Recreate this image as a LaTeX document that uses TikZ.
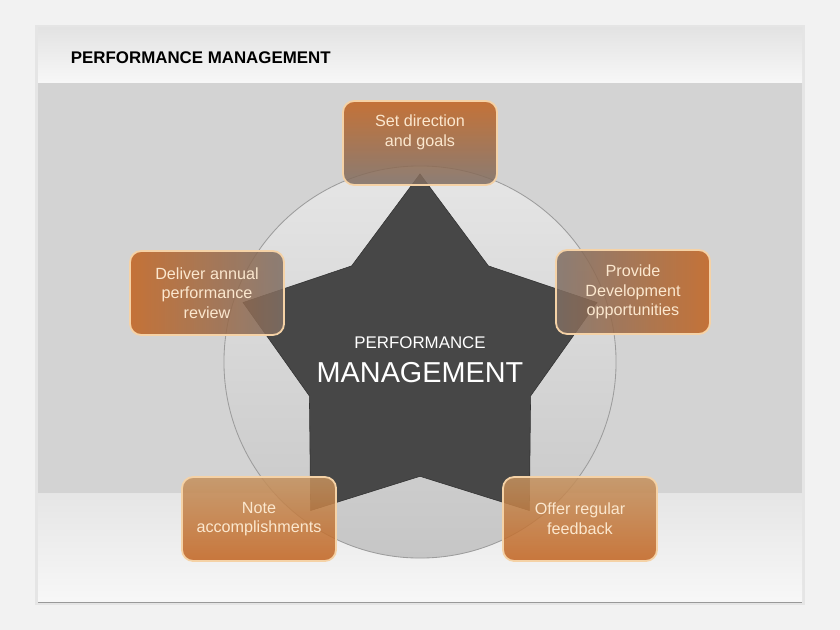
\documentclass[tikz,border=0pt]{standalone}
\usepackage{fontspec}
\setmainfont{Liberation Sans}
\usetikzlibrary{shapes.geometric}

\definecolor{pagebg}{HTML}{F2F2F2}
\definecolor{bodygray}{HTML}{D3D3D3}
\definecolor{ringtop}{HTML}{E6E6E6}
\definecolor{ringbot}{HTML}{C6C6C6}
\definecolor{ringline}{HTML}{9C9C9C}
\definecolor{stargray}{HTML}{474747}
\definecolor{boxorange}{HTML}{C2631F}
\definecolor{boxgray}{HTML}{7E6E64}
\definecolor{boxtan}{HTML}{C4925F}
\definecolor{cream}{HTML}{FBE7CE}
\definecolor{glow}{HTML}{F5D2A6}

\tikzset{
  goal/.style={rounded corners=8pt, minimum width=3.85cm, minimum height=2.1cm,
    draw=glow, line width=1.3pt, fill opacity=0.86, text opacity=1,
    text=cream, align=center, font=\fontsize{11.5}{14}\selectfont},
  goaltext/.style={text=cream, align=center, font=\fontsize{11.5}{14}\selectfont}
}

\begin{document}
\begin{tikzpicture}[x=0.025cm, y=-0.025cm]
  \useasboundingbox (0,0) rectangle (840,630);
  \fill[pagebg] (0,0) rectangle (840,630);

  % slide frame
  \fill[black!10] (35,25) rectangle (805,605);
  \shade[top color=black!11, bottom color=black!3] (38,28) rectangle (802,83);
  \fill[bodygray] (38,83) rectangle (802,493);
  \shade[top color=black!10, bottom color=black!3] (38,493) rectangle (802,602);
  \draw[black!40] (38,602) -- (802,602);
  \node[anchor=west, font=\bfseries\fontsize{12}{14}\selectfont] (title) at (66,58) {PERFORMANCE MANAGEMENT};

  % ring and star
  \node[circle, minimum size=9.8cm, inner sep=0, top color=ringtop, bottom color=ringbot,
        draw=ringline, line width=0.6pt] (ring) at (420,362) {};
  \node[star, star points=5, star point ratio=1.6, minimum size=9.3cm, inner sep=0,
        fill=stargray, draw=stargray!70!black] (hub) at (420,360) {};
  \node[text=white, font=\fontsize{12}{14}\selectfont] (hubtop) at (420,343) {PERFORMANCE};
  \node[text=white, font=\fontsize{20.5}{24}\selectfont] (hubbottom) at (420,373) {MANAGEMENT};

  % goals round the star
  \node[goal, top color=boxorange, bottom color=boxgray] (direction) at (420,143) {};
  \node[goaltext] (directiontext) at (420,132) {Set direction\\and goals};
  \node[goal, left color=boxorange, right color=boxgray] (review) at (207,293) {Deliver annual\\performance\\review};
  \node[goal, left color=boxgray, right color=boxorange] (development) at (633,292) {Provide\\Development\\opportunities};
  \node[goal, top color=boxtan, bottom color=boxorange] (notes) at (259,519) {Note\\accomplishments};
  \node[goal, top color=boxtan, bottom color=boxorange] (feedback) at (580,519) {Offer regular\\feedback};
\end{tikzpicture}
\end{document}
